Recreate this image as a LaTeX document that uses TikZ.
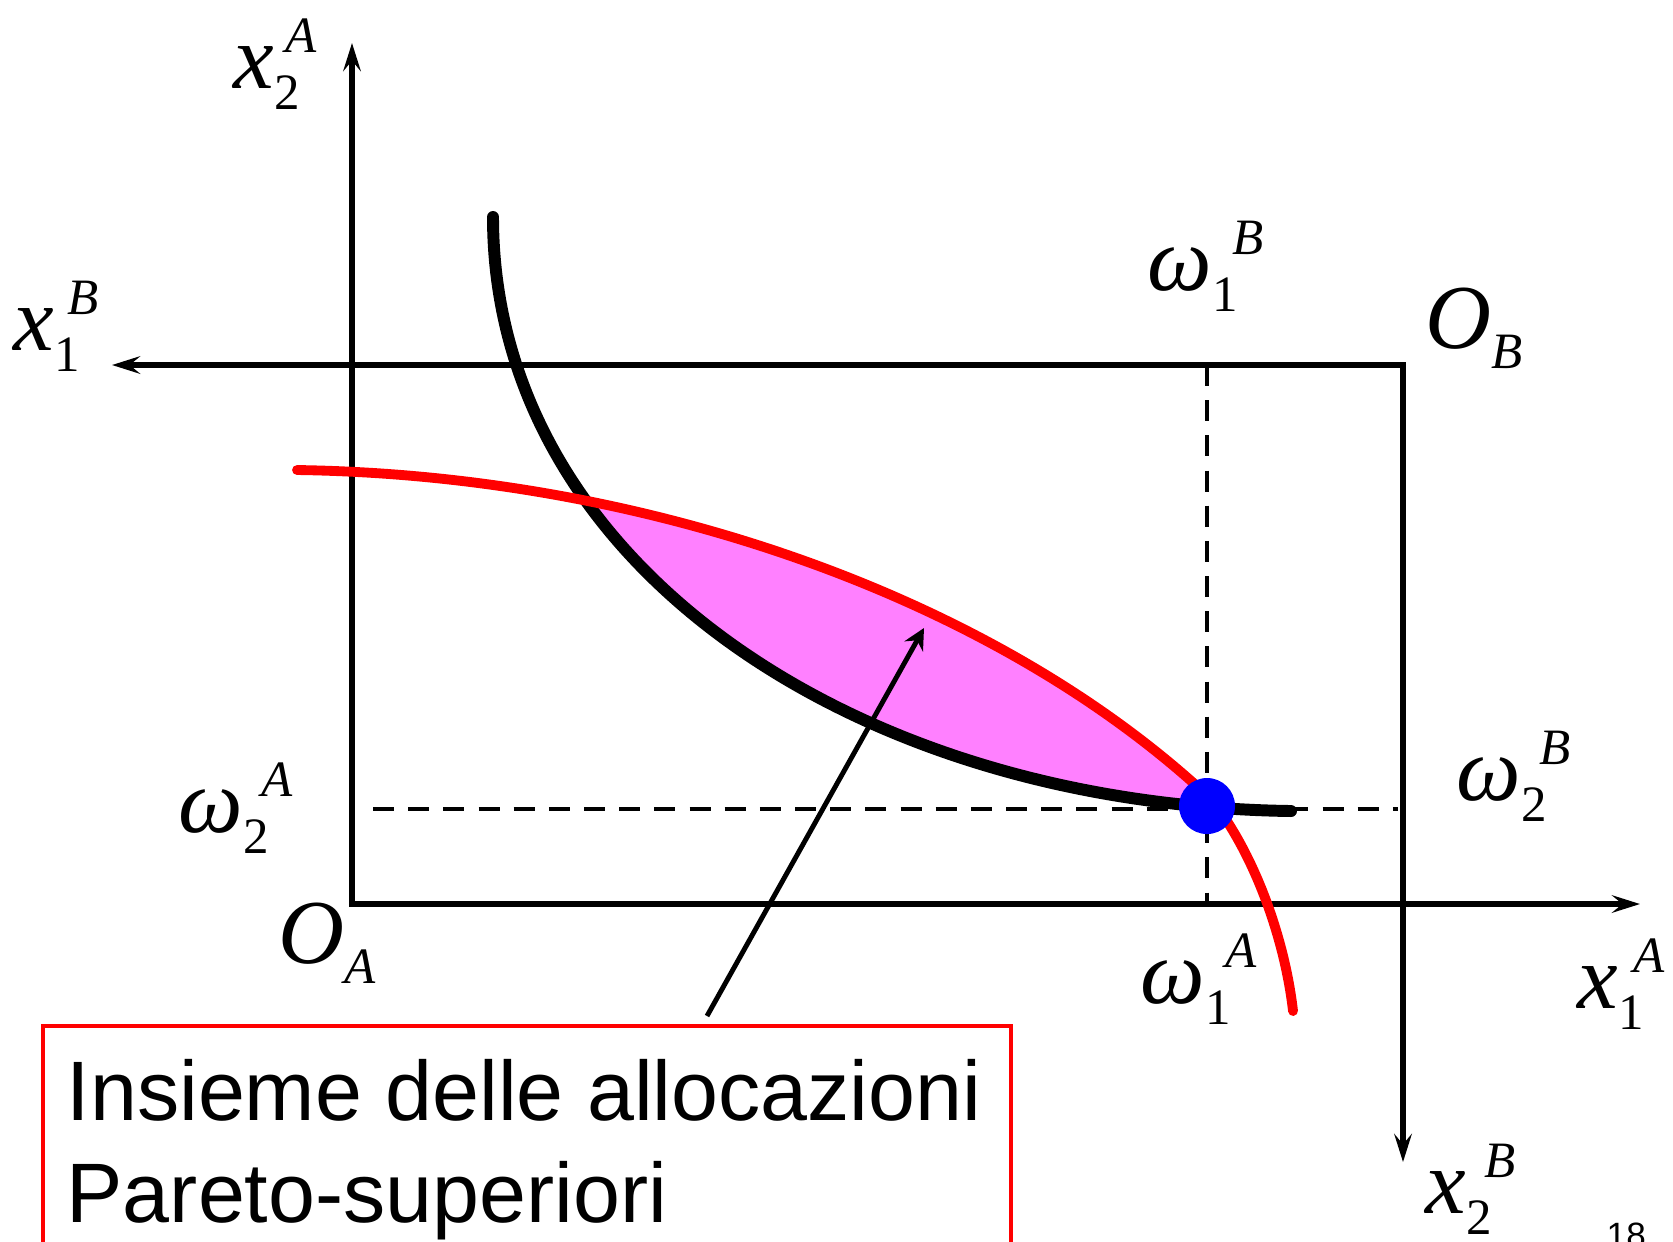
\documentclass[tikz,border=0pt]{standalone}
\usepackage{fontspec}
\setmainfont{Liberation Serif}
\newfontfamily\boxfnt{Liberation Sans}
\usetikzlibrary{arrows.meta}

% scripts of the labels
\newcommand{\idxfont}{\fontsize{14.5}{16}\selectfont}
\newcommand{\lbl}[4][0pt]{\textit{#2}\raisebox{-6pt}{\idxfont #3}\kern#1\raisebox{10pt}{\idxfont\itshape #4}}
\newcommand{\orig}[2]{\textit{#1}\raisebox{-5.8pt}{\idxfont\itshape #2}}

\tikzset{
  axisline/.style={line width=1.6pt},
  endow/.style={line width=1.4pt, dash pattern=on 6pt off 4pt},
  curveA/.style={line width=3.4pt, line cap=round},
  curveB/.style={line width=2.8pt, red, line cap=round},
  lab/.style={inner sep=0pt, anchor=base west, font=\fontsize{26}{28}\selectfont},
  boxtext/.style={inner sep=0pt, anchor=base west, font=\boxfnt\fontsize{24}{29}\selectfont},
}
\definecolor{lens}{RGB}{255,128,255}

\begin{document}
\begin{tikzpicture}[x=0.01cm, y=-0.01cm]
\useasboundingbox (0,0) rectangle (1673,1241);

% origins and axis ends
\coordinate (OA) at (352,904);
\coordinate (OB) at (1403,365);
\coordinate (x2Aend) at (352,43);
\coordinate (x1Aend) at (1640,904);
\coordinate (x1Bend) at (112,365);
\coordinate (x2Bend) at (1403,1162);
\coordinate (w1top) at (1207,365);
\coordinate (w1bot) at (1207,902);
\coordinate (w2left) at (373,809);
\coordinate (w2right) at (1398,809);
\coordinate (endow) at (1207,806);

% axes
\draw[axisline, {Stealth[length=8pt,width=5pt,inset=3pt]}-{Stealth[length=8pt,width=5pt,inset=3pt]}] (x2Aend) -- (OA) -- (x1Aend);
\draw[axisline, {Stealth[length=8pt,width=5pt,inset=3pt]}-{Stealth[length=8pt,width=5pt,inset=3pt]}] (x1Bend) -- (OB) -- (x2Bend);

% endowment
\draw[endow] (w1top) -- (w1bot);
\draw[endow] (w2left) -- (w2right);

% lens
\begin{scope}
  \clip (297,470) .. controls (650,475) and (1000,600) .. (1212,800)
        .. controls (1255,855) and (1285,940) .. (1293,1011) -- (297,1011) -- cycle;
  \fill[lens] (493,217) .. controls (493,560) and (850,805) .. (1291,811) -- (1291,217) -- cycle;
\end{scope}

% indifference curves
\draw[curveA] (493,217) .. controls (493,560) and (850,805) .. (1291,811);
\draw[curveB] (297,470) .. controls (650,475) and (1000,600) .. (1212,800)
      .. controls (1255,855) and (1285,940) .. (1293,1011);

% labels
\node[lab] (x2A) at (233,88) {\lbl[-4pt]{x}{2}{A}};
\node[lab] (x1B) at (13,350) {\lbl[-3.5pt]{x}{1}{B}};
\node[lab] (w1B) at (1147,290) {\lbl[-1.5pt]{ω}{1}{B}};
\node[lab] (OBl) at (1425,348) {\orig{O}{B}};
\node[lab] (w2B) at (1456,800) {\lbl[-2pt]{ω}{2}{B}};
\node[lab] (w2A) at (178,832) {\lbl[-2pt]{ω}{2}{A}};
\node[lab] (OAl) at (278,963) {\orig{O}{A}};
\node[lab] (w1A) at (1140,1003) {\lbl[-1.5pt]{ω}{1}{A}};
\node[lab] (x1A) at (1577,1008) {\lbl[-3pt]{x}{1}{A}};
\node[lab] (x2B) at (1425,1213) {\lbl[-2pt]{x}{2}{B}};

% box
\draw[red, line width=1.4pt] (43,1026) rectangle (1011,1300);
\node[boxtext] (ins1) at (66,1120) {Insieme delle allocazioni};
\node[boxtext] (ins2) at (66,1222) {Pareto-superiori};
\coordinate (ptrfoot) at (707,1016);
\coordinate (ptrtip) at (924,628);
\draw[line width=1.4pt, -{Stealth[length=6pt,width=6pt,inset=2pt]}] (ptrfoot) -- (ptrtip);

\fill[blue] (endow) circle (28);

\node[inner sep=0pt, anchor=base west, font=\boxfnt\fontsize{10}{12}\selectfont] (pg) at (1606,1247) {18};
\end{tikzpicture}
\end{document}
